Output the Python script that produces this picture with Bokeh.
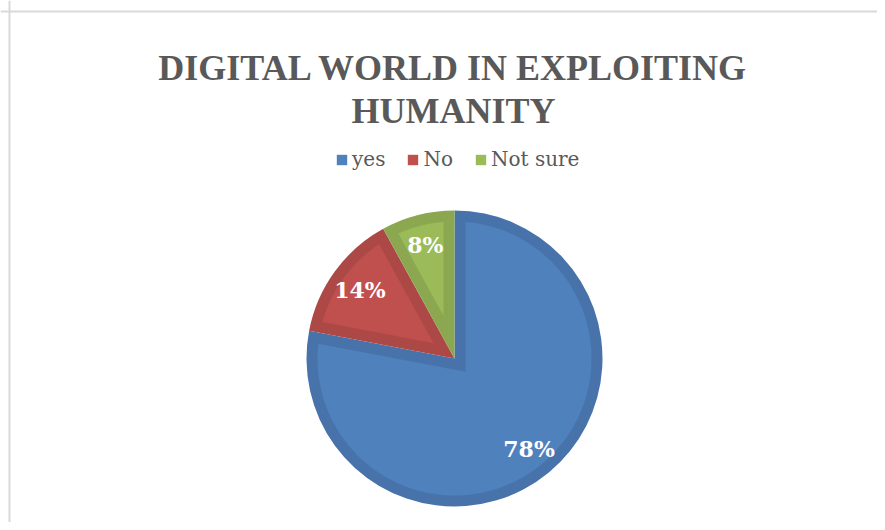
import numpy as np
from bokeh.plotting import figure
from bokeh.models import Range1d, Label, Span, Legend, LegendItem, ColumnDataSource
from bokeh.core.properties import value
from bokeh.embed import file_html
from bokeh.resources import INLINE

# ---- data ----
categories = ["yes", "No", "Not sure"]
shares = [78, 14, 8]
pct_labels = ["78%", "14%", "8%"]
fill_colors = ["#4F81BD", "#C0504D", "#9BBB59"]
edge_colors = ["#4773AA", "#AC4845", "#8BA850"]
title_lines = ["DIGITAL WORLD IN EXPLOITING", "HUMANITY"]

# ---- layout ----
W, H = 877, 522


def sy(screen_y):
    return H - screen_y


p = figure(width=W, height=H, x_range=Range1d(0, W), y_range=Range1d(0, H),
           output_backend="svg", toolbar_location=None, min_border=0,
           x_axis_type=None, y_axis_type=None)
p.grid.visible = False
p.outline_line_color = None
p.background_fill_color = "white"

# chart frame (top and left edges visible)
p.add_layout(Span(location=9, dimension="height", line_color="#D9D9D9", line_width=2))
p.add_layout(Span(location=sy(11), dimension="width", line_color="#D9D9D9", line_width=2))

# title
for line, base in zip(title_lines, [67, 110]):
    p.add_layout(Label(x=453, y=sy(base), text=line, text_align="center",
                       text_baseline="alphabetic", text_font="Liberation Serif",
                       text_font_style="bold", text_font_size="36px",
                       text_color="#595959"))

# pie geometry
cx, cy, R = 454, sy(358), 148
d = 11  # bevel band width

frac = np.array(shares, dtype=float) / sum(shares)
cum = np.concatenate([[0.0], np.cumsum(frac)])
start = np.pi / 2 - 2 * np.pi * cum[:-1]
end = np.pi / 2 - 2 * np.pi * cum[1:]

src = ColumnDataSource(dict(start=start, end=end, edge=edge_colors, fill=fill_colors))
p.wedge(x=cx, y=cy, radius=R, start_angle="start", end_angle="end", direction="clock",
        fill_color="edge", line_color=None, source=src)

# inset (lighter) polygons
xs, ys = [], []
Ri = R - d
delta = np.arcsin(d / Ri)
for a_s, a_e in zip(start, end):
    theta = a_s - a_e
    m = (a_s + a_e) / 2
    dist = d / np.sin(theta / 2)
    px, py = cx + dist * np.cos(m), cy + dist * np.sin(m)
    arc = np.linspace(a_e + delta, a_s - delta, 200)
    xs.append([px] + list(cx + Ri * np.cos(arc)))
    ys.append([py] + list(cy + Ri * np.sin(arc)))

psrc = ColumnDataSource(dict(xs=xs, ys=ys, fill=fill_colors))
inner = p.patches(xs="xs", ys="ys", fill_color="fill", line_color=None, source=psrc)

# percentage labels
mid = (start + end) / 2
rl = 0.79 * R
lsrc = ColumnDataSource(dict(x=cx + rl * np.cos(mid), y=cy + rl * np.sin(mid), t=pct_labels))
p.text(x="x", y="y", text="t", source=lsrc, text_align="center", text_baseline="middle",
       text_font=value("DejaVu Serif"), text_font_style="bold", text_font_size="22px",
       text_color="white")

# legend
items = [LegendItem(label=c, renderers=[inner], index=i) for i, c in enumerate(categories)]
legend = Legend(items=items, orientation="horizontal", location=(335, 351),
                glyph_width=13, glyph_height=13, label_standoff=4, spacing=21,
                padding=0, margin=0, border_line_color=None, background_fill_alpha=0,
                label_text_font="DejaVu Serif", label_text_font_size="20px",
                label_text_color="#595959")
p.add_layout(legend, "center")

open("out.html", "w").write(file_html(p, INLINE))
